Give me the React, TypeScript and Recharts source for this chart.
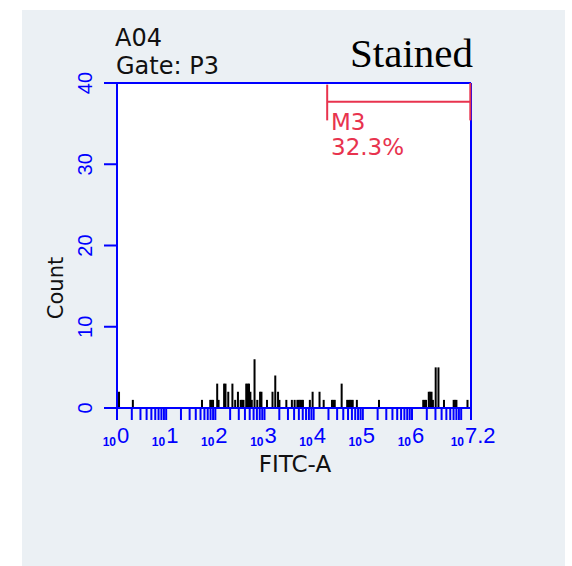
import React from 'react'
import { BarChart, Bar, XAxis, YAxis, CartesianGrid, ReferenceLine } from 'recharts'

// histogram channels (256 channels over 7.2 decades) and their event counts
const CHANNELS = [
  1, 11, 61, 67, 68, 69, 72, 73, 77, 78, 80, 83, 85, 87, 89, 90, 91, 93, 94, 95, 96, 97, 99, 101,
  103, 104, 108, 112, 114, 116, 117, 122, 126, 128, 130, 131, 132, 133, 134, 139, 141, 146, 149,
  155, 156, 157, 162, 166, 167, 168, 169, 170, 173, 189, 221, 222, 223, 225, 226, 227, 228, 230,
  232, 236, 243, 244, 245, 253,
]
const COUNTS = [
  2, 1, 1, 1, 1, 1, 3, 1, 3, 3, 2, 3, 1, 2, 1, 1, 1, 3, 3, 3, 2, 1, 6, 1,
  2, 2, 1, 2, 4, 2, 1, 1, 1, 1, 1, 1, 1, 1, 1, 1, 2, 2, 1,
  1, 1, 1, 3, 1, 1, 1, 1, 1, 1, 1, 1, 1, 1, 2, 2, 2, 1, 5,
  5, 1, 1, 1, 1, 1,
]

const DECADES = [0, 1, 2, 3, 4, 5, 6, 7, 7.2]
const DECADE_LABELS = ['0', '1', '2', '3', '4', '5', '6', '', '7.2']
const Y_TICKS = [0, 10, 20, 30, 40]

// M3 marker gate (channels / count level)
const M3_START = 152
const M3_END = 255.5
const M3_LEVEL = 37.7
const M3_TICK_LOW = 35.4
const M3_TICK_HIGH = 39.8

const CHANNEL_MAX = 256
const DECADE_MAX = 7.2
const BLUE = '#0000ff'
const RED = '#e8334e'

const toChannel = (decade: number) => (decade * CHANNEL_MAX) / DECADE_MAX

const data = CHANNELS.map((c, i) => ({ channel: c + 0.5, count: COUNTS[i] }))

const majorTicks = DECADES.map(toChannel)
const minorTicks: number[] = []
for (let d = 0; d < 8; d++) {
  for (let k = 2; k <= 9; k++) {
    const v = d + Math.log10(k)
    if (v < DECADE_MAX) minorTicks.push(toChannel(v))
  }
}
const xTicks = [...majorTicks, ...minorTicks].sort((a, b) => a - b)

const XTick = (props: any) => {
  const { x, y, payload } = props
  const idx = majorTicks.findIndex((m) => Math.abs(m - payload.value) < 1e-6)
  const label = idx >= 0 ? DECADE_LABELS[idx] : ''
  const shift = label.length > 1 ? -6 : 0
  return (
    <g>
      <line x1={x} y1={y} x2={x} y2={y + 12} stroke={BLUE} strokeWidth={2} />
      {label && (
        <>
          <text x={x - 1 + shift} y={y + 38} textAnchor="end" fontSize={12} fontWeight="bold"
            fontFamily="Liberation Sans" fill={BLUE}>10</text>
          <text x={x + shift} y={y + 35} textAnchor="start" fontSize={22}
            fontFamily="Liberation Sans" fill={BLUE}>{label}</text>
        </>
      )}
    </g>
  )
}

const YTick = (props: any) => {
  const { y, payload } = props
  const bx = 92
  return (
    <text x={bx} y={y} transform={`rotate(-90 ${bx} ${y})`} textAnchor="middle" fontSize={20}
      fontFamily="Liberation Sans" fill={BLUE}>{payload.value}</text>
  )
}

// histogram bar: 2px wide column centred on its channel
const HistBar = (props: any) => {
  const { x, y, width, height } = props
  if (!height) return null
  const cx = x + width / 2
  return <rect x={cx - 1} y={y} width={2} height={height} fill="#000" />
}

export default function App() {
  const txt = { fontFamily: 'DejaVu Sans', fill: '#111' }
  return (
    <div style={{ position: 'absolute', left: 0, top: 0, width: 572, height: 566, background: '#fff' }}>
      <div style={{ position: 'absolute', left: 22, top: 10, width: 543, height: 556, background: '#ebf0f4' }} />
      <div style={{ position: 'absolute', left: 0, top: 0 }}>
        <BarChart width={572} height={566} data={data} margin={{ top: 83, right: 101, bottom: 0, left: 0 }}>
          <CartesianGrid horizontal={false} vertical={false} fill="#ffffff" />
          <XAxis type="number" dataKey="channel" domain={[0, CHANNEL_MAX]} ticks={xTicks} interval={0}
            tickSize={0} tickMargin={0} height={158} tick={<XTick />}
            axisLine={{ stroke: BLUE, strokeWidth: 2 }} allowDataOverflow />
          <YAxis type="number" domain={[0, 40]} ticks={Y_TICKS} width={117} tickSize={13} interval={0}
            tickLine={{ stroke: BLUE, strokeWidth: 2 }} axisLine={{ stroke: BLUE, strokeWidth: 2 }}
            tick={<YTick />} />
          <ReferenceLine y={40} stroke={BLUE} strokeWidth={2} />
          <ReferenceLine x={CHANNEL_MAX} stroke={BLUE} strokeWidth={2} />
          <Bar dataKey="count" fill="#000" shape={HistBar} isAnimationActive={false} />
          <ReferenceLine segment={[{ x: M3_START, y: M3_LEVEL }, { x: M3_END, y: M3_LEVEL }]} stroke={RED} strokeWidth={2} />
          <ReferenceLine segment={[{ x: M3_START, y: M3_TICK_LOW }, { x: M3_START, y: M3_TICK_HIGH }]} stroke={RED} strokeWidth={2} />
          <ReferenceLine segment={[{ x: M3_END, y: M3_TICK_LOW }, { x: M3_END, y: 40 }]} stroke={RED} strokeWidth={2} />
        </BarChart>
      </div>
      <svg width={572} height={566} style={{ position: 'absolute', left: 0, top: 0, pointerEvents: 'none' }}>
        <text x={115} y={46} fontSize={24} {...txt}>A04</text>
        <text x={116} y={74} fontSize={24} {...txt}>Gate: P3</text>
        <text x={350} y={67} fontSize={41} fontFamily="Liberation Serif" fill="#000">Stained</text>
        <text x={63} y={288} transform="rotate(-90 63 288)" textAnchor="middle" fontSize={21} {...txt}>Count</text>
        <text x={295} y={472} textAnchor="middle" fontSize={23} {...txt}>FITC-A</text>
        <text x={331} y={130} fontSize={23} fontFamily="DejaVu Sans" fill={RED}>M3</text>
        <text x={331} y={155} fontSize={23} fontFamily="DejaVu Sans" fill={RED}>32.3%</text>
      </svg>
    </div>
  )
}
